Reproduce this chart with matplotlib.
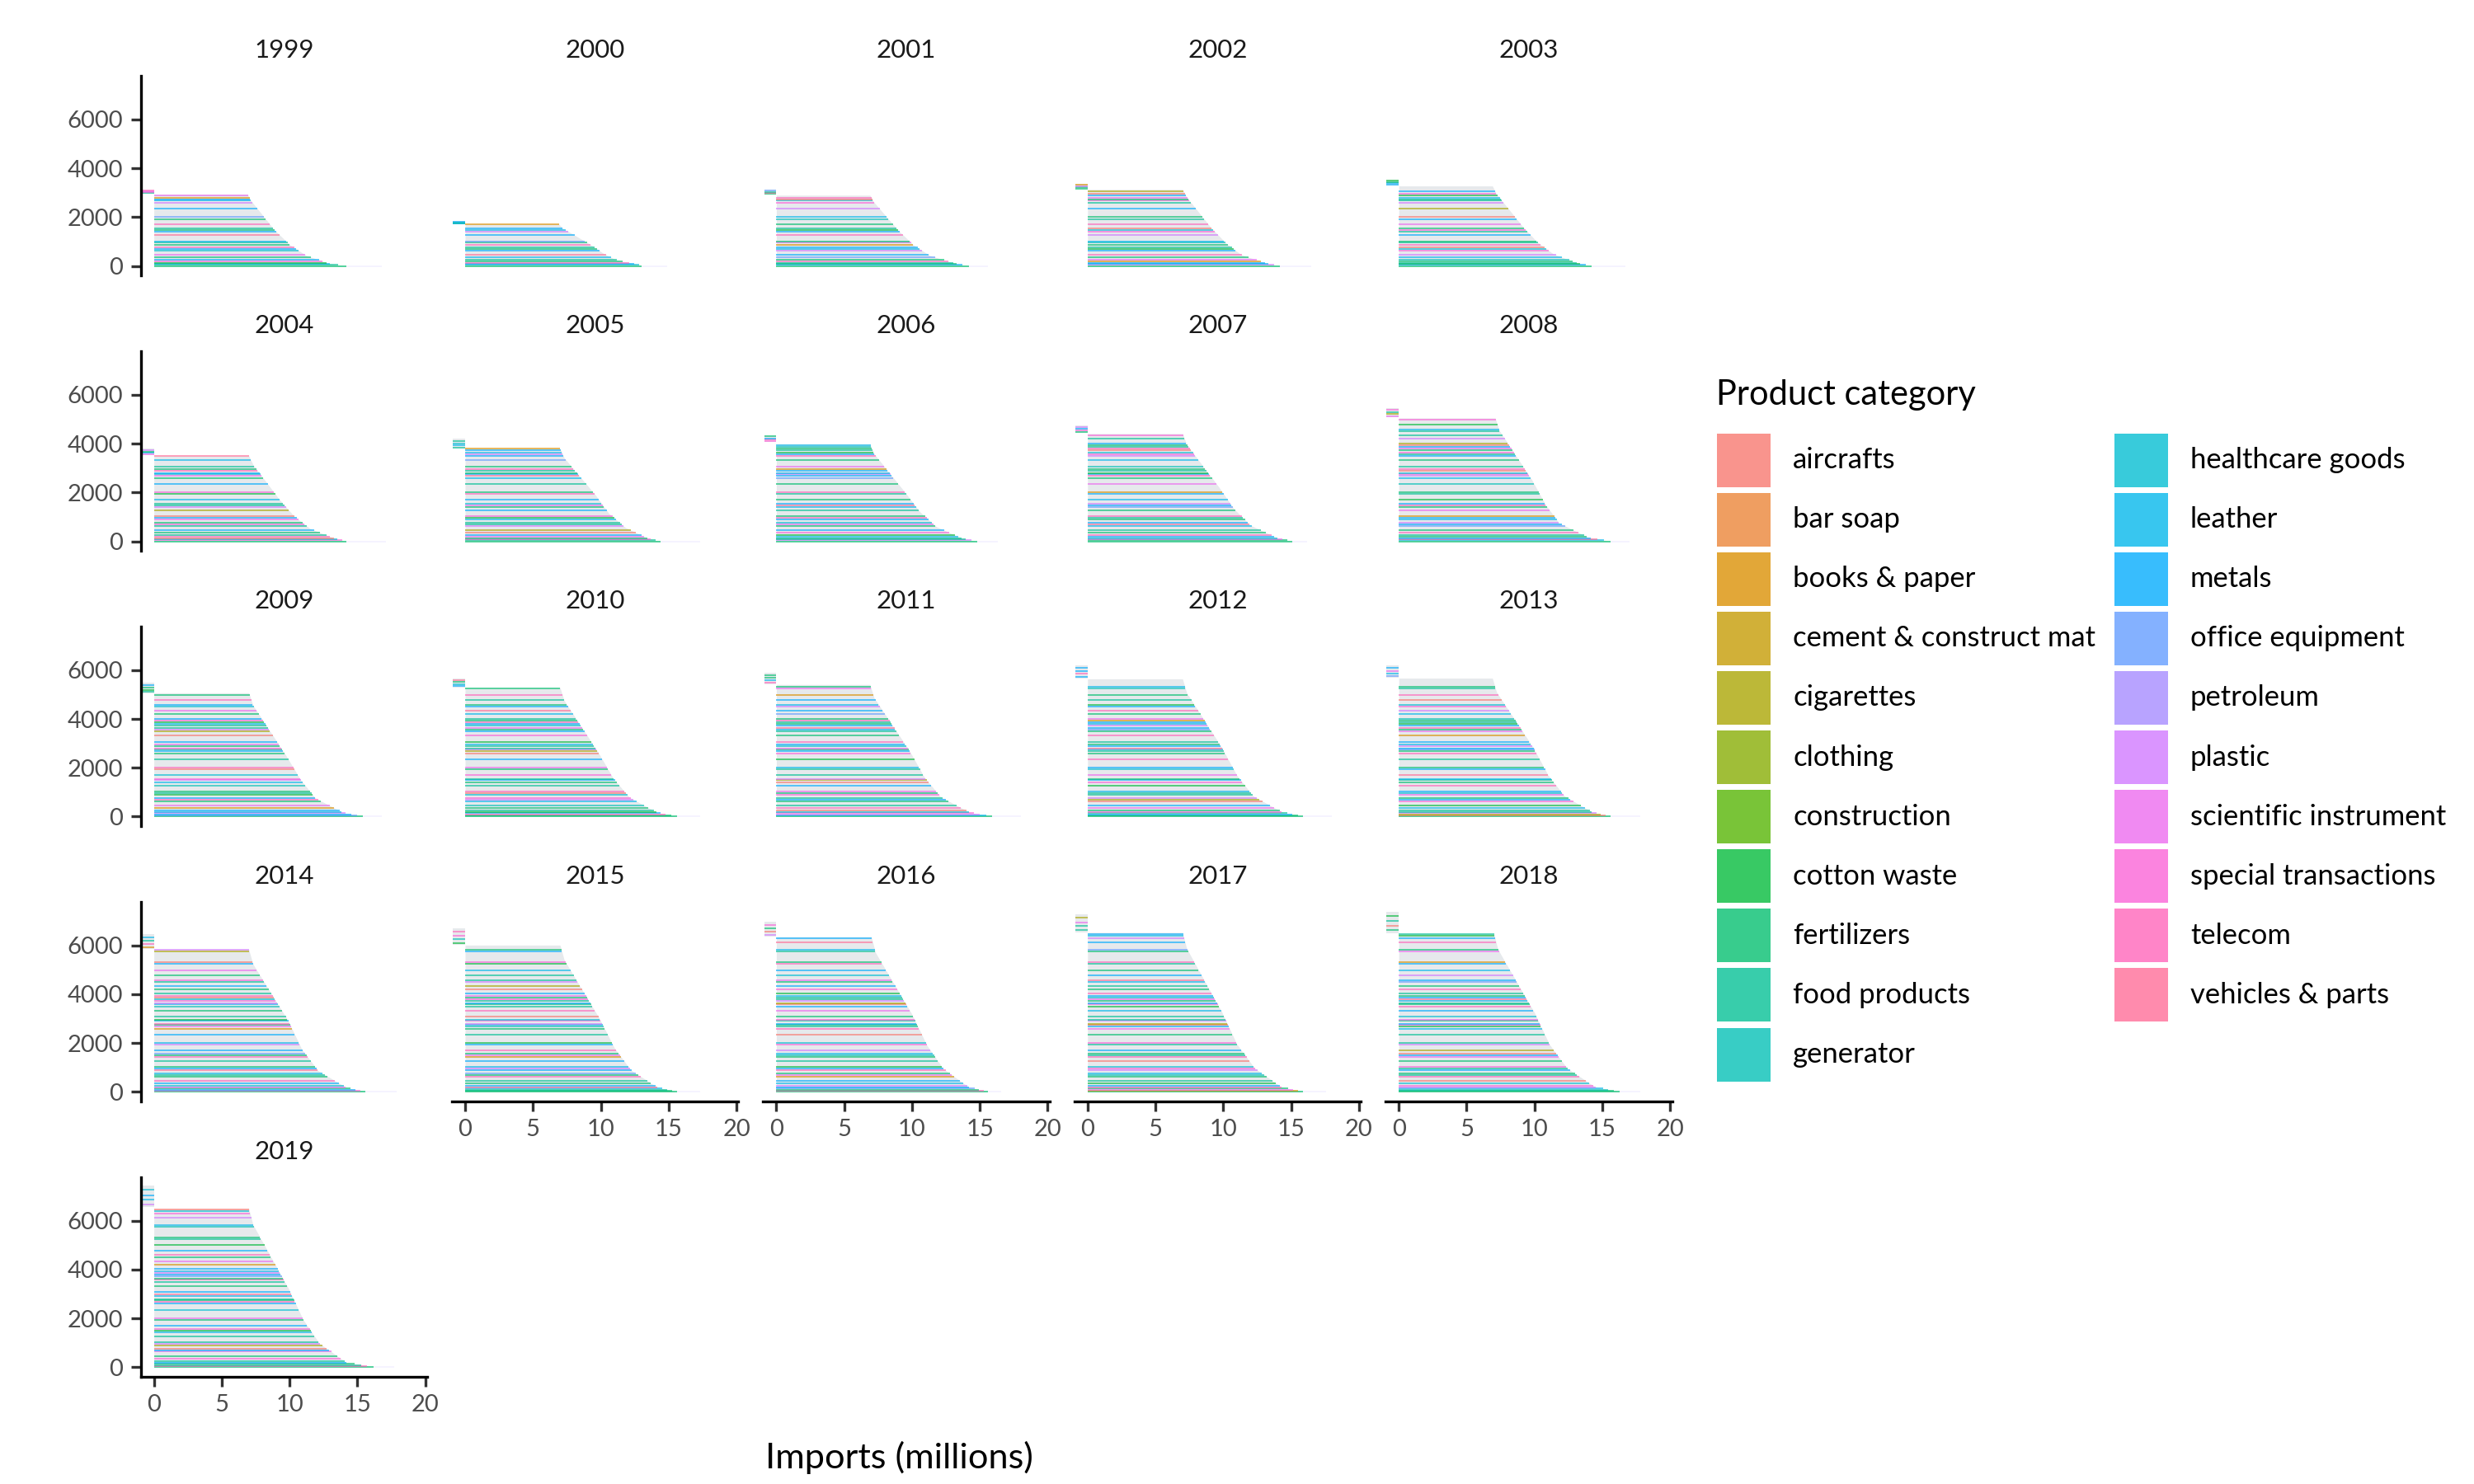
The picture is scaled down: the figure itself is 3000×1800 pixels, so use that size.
import numpy as np
import matplotlib
matplotlib.use('Agg')
import matplotlib.pyplot as plt
from matplotlib.patches import Rectangle

plt.rcParams['font.family'] = ['Lato', 'DejaVu Sans']

categories = ['aircrafts', 'bar soap', 'books & paper', 'cement & construct mat',
              'cigarettes', 'clothing', 'construction', 'cotton waste',
              'fertilizers', 'food products', 'generator', 'healthcare goods',
              'leather', 'metals', 'office equipment', 'petroleum', 'plastic',
              'scientific instrument', 'special transactions', 'telecom',
              'vehicles & parts']

years = [1999, 2000, 2001, 2002, 2003, 2004, 2005, 2006, 2007, 2008, 2009,
         2010, 2011, 2012, 2013, 2014, 2015, 2016, 2017, 2018, 2019]

# number of ranked rows with positive log imports (top of the main block)
n_main = [2940, 1720, 2900, 3140, 3280, 3500, 3800, 3990, 4410, 5050, 5070,
          5280, 5410, 5640, 5670, 5820, 6010, 6350, 6530, 6490, 6490]
# rows with negative values, stacked above the main block
small_lo = [2970, 1720, 2920, 3150, 3300, 3530, 3800, 4060, 4430, 5080, 5050,
            5300, 5420, 5660, 5700, 5840, 6020, 6360, 6530, 6510, 6570]
small_hi = [3110, 1830, 3140, 3380, 3550, 3785, 4200, 4350, 4730, 5450, 5470,
            5670, 5890, 6210, 6180, 6450, 6690, 6960, 7270, 7380, 7440]
small_value = -0.9

# right edge of the bars, read at fractions of n_main (bottom -> top)
edge_fracs = [0.0, 0.03, 0.15, 0.30, 0.50, 0.90, 1.0]
edge_00 = [14.2, 13.0, 14.2, 14.2, 14.2, 14.2, 14.4, 14.8, 15.1, 15.6, 15.4,
           15.6, 15.9, 15.9, 15.6, 15.6, 15.6, 15.6, 15.9, 16.3, 16.2]
edge_03 = [13.0, 12.8, 13.3, 13.3, 13.3, 13.4, 13.5, 13.7, 14.0, 14.0, 14.0,
           14.2, 14.3, 14.4, 14.3, 14.2, 14.2, 14.2, 14.3, 14.5, 14.2]
edge_15 = [11.2, 11.1, 11.3, 11.3, 11.4, 11.5, 11.8, 11.8, 12.0, 11.8, 11.9,
           12.1, 12.1, 12.2, 12.2, 12.1, 12.2, 12.3, 12.3, 12.4, 12.2]
edge_30 = [10.0, 10.2, 10.1, 10.2, 10.2, 10.3, 10.6, 10.6, 10.8, 10.8, 10.8,
           10.9, 10.9, 11.0, 11.0, 10.9, 11.0, 11.1, 11.0, 11.1, 11.0]
edge_50 = [8.9, 9.3, 9.0, 9.1, 9.1, 9.2, 9.6, 9.5, 9.7, 9.8, 9.7,
           9.8, 9.8, 9.9, 9.9, 9.9, 9.9, 10.0, 9.9, 10.0, 9.9]
edge_90 = [7.2, 7.2, 7.2, 7.3, 7.2, 7.3, 7.3, 7.2, 7.3, 7.4, 7.3,
           7.3, 7.2, 7.3, 7.2, 7.3, 7.3, 7.3, 7.3, 7.3, 7.3]
edge_top = [6.9, 6.9, 6.9, 7.0, 6.9, 7.0, 7.0, 6.9, 7.0, 7.1, 7.0,
            7.0, 6.9, 7.0, 6.9, 7.0, 7.0, 7.0, 7.0, 7.0, 7.0]
edge_tail = [16.8, 14.9, 15.6, 16.5, 16.7, 17.1, 17.3, 16.3, 16.2, 17.0, 16.8,
             17.3, 18.0, 18.0, 17.8, 17.9, 17.3, 16.6, 17.6, 17.8, 17.7]

# ranks of the clearly visible coloured rows and their category (2019 panel)
stripe_ranks = [45, 91, 136, 195, 247, 363, 454, 636, 701, 759, 883, 954, 1019,
                1266, 1415, 1486, 1551, 1707, 1928, 2005, 2343, 2596, 2693,
                2739, 2784, 2901, 2966, 3070, 3329, 3498, 3576, 3621, 3725,
                3797, 3862, 3920, 4017, 4193, 4335, 4517, 4588, 4764, 4991,
                5257, 5309, 5750, 5809, 6114, 6295, 6399, 6445]
stripe_cats = ['food products', 'leather', 'cotton waste', 'special transactions',
               'metals', 'fertilizers', 'scientific instrument', 'healthcare goods',
               'metals', 'telecom', 'fertilizers', 'food products', 'leather',
               'vehicles & parts', 'metals', 'fertilizers', 'food products',
               'telecom', 'fertilizers', 'office equipment', 'metals', 'plastic',
               'leather', 'metals', 'books & paper', 'scientific instrument',
               'fertilizers', 'telecom', 'metals', 'cotton waste', 'food products',
               'fertilizers', 'generator', 'leather', 'plastic',
               'special transactions', 'healthcare goods', 'aircrafts', 'telecom',
               'food products', 'fertilizers', 'metals', 'food products',
               'special transactions', 'fertilizers', 'scientific instrument',
               'metals', 'aircrafts', 'cigarettes', 'plastic', 'food products']
small_fracs = [0.12, 0.35, 0.55, 0.8]


def hue_pal(n, l=65, c=100):
    # ggplot2 default hue palette (polar LUV -> sRGB)
    Xn, Yn, Zn = 0.95047, 1.0, 1.08883
    un = 4 * Xn / (Xn + 15 * Yn + 3 * Zn)
    vn = 9 * Yn / (Xn + 15 * Yn + 3 * Zn)
    M = np.array([[3.2404542, -1.5371385, -0.4985314],
                  [-0.9692660, 1.8760108, 0.0415560],
                  [0.0556434, -0.2040259, 1.0572252]])
    out = []
    for h in np.linspace(15, 375, n + 1)[:-1]:
        u, v = c * np.cos(np.radians(h)), c * np.sin(np.radians(h))
        Y = Yn * ((l + 16) / 116) ** 3
        up, vp = u / (13 * l) + un, v / (13 * l) + vn
        X = 9 * Y * up / (4 * vp)
        Z = Y * (12 - 3 * up - 20 * vp) / (4 * vp)
        rgb = M @ np.array([X, Y, Z])
        rgb = np.where(rgb <= 0.0031308, 12.92 * rgb, 1.055 * np.abs(rgb) ** (1 / 2.4) - 0.055)
        out.append(tuple(np.clip(rgb, 0, 1)))
    return out


pal = dict(zip(categories, hue_pal(len(categories))))
MASS = '#e6e9ec'
ALPHA = 0.78

W, H = 3000, 1800
fig = plt.figure(figsize=(10, 6), dpi=300)

ylo, yhi = -385, 7780
xlo, xhi = -0.97, 20.15
px_per_unit_y = 0.02962
px_per_unit_x = 16.45

for k, year in enumerate(years):
    row, col = divmod(k, 5)
    x0_px = 186.6 + 377.4 * col
    y0_px = 322.7 + 333.9 * row
    left_px = x0_px + xlo * px_per_unit_x
    width_px = (xhi - xlo) * px_per_unit_x
    top_px = y0_px - yhi * px_per_unit_y
    height_px = (yhi - ylo) * px_per_unit_y
    ax = fig.add_axes([left_px / W, 1 - (top_px + height_px) / H,
                       width_px / W, height_px / H])
    ax.set_xlim(xlo, xhi)
    ax.set_ylim(ylo, yhi)

    n = n_main[k]
    edges = [edge_00[k], edge_03[k], edge_15[k], edge_30[k], edge_50[k],
             edge_90[k], edge_top[k]]
    ranks = [f * n for f in edge_fracs]
    ax.fill_betweenx(ranks, 0, edges, color=MASS, lw=0)
    ax.plot([edge_00[k], edge_tail[k]], [0, 0], color=pal['petroleum'],
            alpha=0.12, lw=0.4, solid_capstyle='butt')
    ax.plot([0, edge_00[k]], [0, 0], color=pal['fertilizers'], alpha=ALPHA,
            lw=0.4, solid_capstyle='butt')

    for j, r in enumerate(stripe_ranks):
        if r >= n:
            continue
        cat = stripe_cats[(j + 7 * k) % len(stripe_cats)]
        xe = np.interp(r / n, edge_fracs, edges)
        ax.plot([0, xe], [r, r], color=pal[cat], alpha=ALPHA,
                lw=0.38, solid_capstyle='butt')

    ax.fill_betweenx([small_lo[k], small_hi[k]], small_value, 0, color=MASS, lw=0)
    for j, f in enumerate(small_fracs):
        cat = stripe_cats[(3 * j + 5 * k) % len(stripe_cats)]
        yy = small_lo[k] + f * (small_hi[k] - small_lo[k])
        ax.plot([small_value, 0], [yy, yy], color=pal[cat], alpha=ALPHA,
                lw=0.38, solid_capstyle='butt')

    ax.set_facecolor('none')
    for s in ['top', 'right']:
        ax.spines[s].set_visible(False)
    show_y = col == 0
    show_x = (row == 4) or (row == 3 and col > 0)
    ax.spines['left'].set_visible(show_y)
    ax.spines['bottom'].set_visible(show_x)
    for s in ['left', 'bottom']:
        ax.spines[s].set_linewidth(0.8)
        ax.spines[s].set_capstyle('projecting')
    if show_y:
        ax.set_yticks([0, 2000, 4000, 6000])
        ax.set_yticklabels(['0', '2000', '4000', '6000'])
    else:
        ax.set_yticks([])
    if show_x:
        ax.set_xticks([0, 5, 10, 15, 20])
        ax.set_xticklabels(['0', '5', '10', '15', '20'])
    else:
        ax.set_xticks([])
    ax.tick_params(length=2.9, width=0.8, color='#333333', labelcolor='#4d4d4d',
                   labelsize=7, pad=2.2)
    ax.text(0.5, 1 + 31 / height_px, str(year), transform=ax.transAxes,
            ha='center', va='center', fontsize=7.5, color='#1a1a1a')

fig.text(1090 / W, 1 - 1768 / H, 'Imports (millions)', ha='center', va='center',
         fontsize=10.4, color='black')

# legend
fig.text(2081 / W, 1 - 479 / H, 'Product category', ha='left', va='center',
         fontsize=10, color='black')
for i, name in enumerate(categories):
    c, r = divmod(i, 11)
    kl = 2082 if c == 0 else 2564
    kc = 558 + 72.1 * r
    fig.patches.append(Rectangle((kl / W, 1 - (kc + 32.5) / H), 65 / W, 65 / H,
                                 transform=fig.transFigure, facecolor=pal[name],
                                 alpha=ALPHA, lw=0))
    fig.text((kl + 92) / W, 1 - kc / H, name, ha='left', va='center',
             fontsize=8.3, color='black')

fig.savefig('out.png', dpi=300, facecolor='white')
